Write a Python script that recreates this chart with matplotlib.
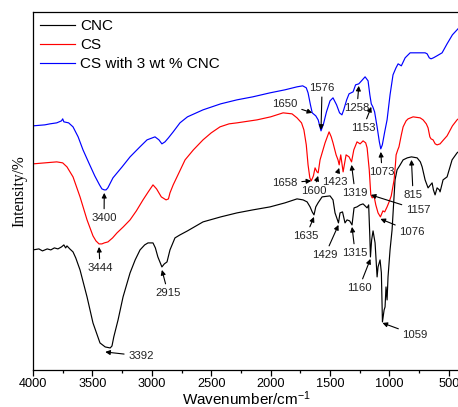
import matplotlib
matplotlib.use("Agg")
import matplotlib.pyplot as plt
import numpy as np

plt.rcParams["font.family"] = ["Liberation Sans", "DejaVu Sans"]
plt.rcParams["mathtext.fontset"] = "custom"
plt.rcParams["mathtext.rm"] = "Liberation Sans"
plt.rcParams["mathtext.it"] = "Liberation Sans"

# FTIR spectra (wavenumber in cm-1, intensity in arbitrary offset units)
cnc_wn = [4000, 3950, 3920, 3880, 3850, 3820, 3790, 3760, 3740, 3725, 3714, 3690, 3663, 3640,
          3604, 3545, 3495, 3436, 3392, 3350, 3335, 3320, 3284, 3242, 3183, 3140, 3099, 3060,
          3032, 2990, 2970, 2949, 2915, 2895, 2872, 2847, 2805, 2763, 2700, 2569, 2420, 2283,
          2150, 2005, 1880, 1778, 1727, 1693, 1668, 1650, 1635, 1620, 1601, 1567, 1500, 1475,
          1458, 1429, 1416, 1395, 1374, 1357, 1335, 1315, 1298, 1273, 1247, 1222, 1205, 1188,
          1175, 1165, 1160, 1150, 1138, 1121, 1104, 1096, 1079, 1068, 1059, 1045, 1037, 1029,
          1020, 1012, 995, 978, 953, 936, 910, 885, 850, 815, 767, 740, 725, 700, 675, 655, 641,
          630, 616, 599, 580, 574, 555, 549, 515, 473, 431, 400]
cnc_val = [120, 121, 119, 121, 120, 122, 121, 123, 125, 122, 124, 121, 118, 112,
           100, 73, 47, 27, 23, 22, 24, 33, 50, 73, 97, 110, 120, 125,
           127, 127, 122, 113, 103, 106, 108, 120, 132, 135, 139, 148, 153, 157,
           160, 163, 167, 171, 170, 168, 163, 158, 155, 163, 167, 173, 174, 170,
           157, 147, 157, 158, 147, 150, 149, 145, 162, 163, 165, 166, 164, 162,
           165, 133, 113, 130, 139, 127, 93, 103, 110, 97, 48, 60, 63, 83,
           70, 93, 120, 140, 190, 200, 205, 210, 212, 213, 212, 208, 203, 190, 182, 185, 187,
           180, 175, 182, 180, 178, 187, 190, 193, 210, 217, 220]

cs_wn = [4000, 3900, 3800, 3750, 3714, 3663, 3604, 3545, 3495, 3470, 3444, 3420, 3400, 3369,
         3330, 3293, 3240, 3183, 3130, 3074, 3030, 2990, 2960, 2920, 2880, 2860, 2847, 2820,
         2788, 2720, 2650, 2569, 2500, 2426, 2350, 2283, 2114, 2000, 1895, 1820, 1778, 1740,
         1720, 1700, 1685, 1670, 1658, 1640, 1626, 1610, 1600, 1584, 1542, 1508, 1490, 1475,
         1449, 1433, 1423, 1410, 1390, 1365, 1340, 1319, 1300, 1273, 1247, 1222, 1200, 1188,
         1170, 1157, 1145, 1130, 1115, 1096, 1076, 1055, 1040, 1020, 1003, 985, 961, 950, 944,
         930, 920, 900, 885, 860, 843, 801, 742, 717, 690, 675, 660, 650, 633, 615, 599, 574,
         545, 515, 470, 431, 400]
cs_val = [206, 207, 208, 207, 203, 193, 173, 150, 134, 129, 126, 126, 127, 128,
          132, 137, 143, 150, 159, 170, 178, 185, 181, 173, 170, 171, 177, 185,
          193, 210, 220, 230, 237, 243, 246, 247, 250, 253, 257, 256, 252, 247,
          240, 225, 205, 192, 189, 194, 202, 198, 197, 210, 227, 238, 233, 227,
          215, 210, 205, 215, 198, 215, 213, 208, 220, 228, 226, 229, 227, 222,
          200, 175, 172, 174, 165, 157, 153, 159, 158, 163, 168, 174, 190, 205, 215,
          220, 223, 235, 243, 249, 251, 253, 252, 250, 246, 242, 233, 231, 230, 226, 225, 226,
          230, 234, 244, 250, 253]

mix_wn = [4000, 3900, 3857, 3800, 3760, 3750, 3740, 3700, 3663, 3620, 3579, 3530, 3480, 3440,
          3420, 3400, 3385, 3370, 3327, 3250, 3183, 3100, 3040, 2973, 2940, 2915, 2889, 2860,
          2820, 2763, 2700, 2569, 2420, 2283, 2150, 2005, 1880, 1778, 1730, 1700, 1685, 1665,
          1650, 1620, 1600, 1576, 1555, 1530, 1500, 1475, 1445, 1420, 1400, 1385, 1360, 1340,
          1306, 1285, 1258, 1235, 1205, 1180, 1165, 1153, 1140, 1125, 1104, 1085, 1073, 1060,
          1040, 1020, 995, 970, 945, 927, 900, 868, 826, 760, 700, 683, 665, 650, 630, 600,
          557, 515, 470, 431, 400]
mix_val = [244, 245, 246, 247, 249, 251, 248, 247, 243, 233, 220, 207, 194, 185,
           181, 180, 180, 182, 192, 203, 213, 223, 230, 233, 230, 226, 228, 232,
           238, 247, 253, 260, 266, 270, 273, 277, 280, 283, 284, 282, 277, 265,
           257, 254, 250, 239, 246, 258, 269, 272, 265, 257, 255, 260, 270, 276,
           278, 285, 286, 289, 293, 289, 275, 266, 263, 258, 243, 228, 221, 225,
           238, 250, 275, 295, 302, 306, 304, 312, 317, 317, 317, 316, 312, 311, 312, 314,
           317, 326, 335, 340, 344]

# peak labels: (text, series, arrow gap, text wavenumber, text height)
peak_labels = [
    ("3400", "mix", -3, 3402, 152),
    ("3444", "cs", -3, 3436, 102),
    ("3392", "cnc", -5, 3091, 14),
    ("2915", "cnc", -3, 2864, 77),
    ("1650", "mix", 0, 1879, 266),
    ("1576", "mix", 1, 1567, 282),
    ("1258", "mix", -2, 1273, 262),
    ("1153", "mix", -3, 1222, 242),
    ("1073", "mix", -3, 1062, 198),
    ("1658", "cs", 0, 1879, 187),
    ("1600", "cs", -3, 1640, 179),
    ("1423", "cs", -3, 1462, 188),
    ("1319", "cs", -3, 1289, 177),
    ("1157", "cs", 0, 759, 160),
    ("1076", "cs", -2, 810, 138),
    ("815", "cnc", -3, 801, 175),
    ("1635", "cnc", -2, 1702, 134),
    ("1429", "cnc", -2, 1542, 115),
    ("1315", "cnc", -2, 1289, 117),
    ("1160", "cnc", -2, 1256, 82),
    ("1059", "cnc", -1, 784, 35),
]

series = {
    "cnc": (cnc_wn, cnc_val, "black", "CNC"),
    "cs": (cs_wn, cs_val, "#ff0000", "CS"),
    "mix": (mix_wn, mix_val, "#0000ff", "CS with 3 wt % CNC"),
}

fig = plt.figure(figsize=(4.58, 4.07), dpi=100)
ax = fig.add_axes([0.072, 0.091, 0.934, 0.88])

for key in ["cnc", "cs", "mix"]:
    wn, val, color, label = series[key]
    ax.plot(wn, val, color=color, lw=0.85, label=label)

for text, key, gap, tx, ty in peak_labels:
    wn, val = series[key][0], series[key][1]
    x0 = float(text)
    y0 = np.interp(x0, wn[::-1], val[::-1]) + gap
    ax.annotate(text, xy=(x0, y0), xytext=(tx, ty), ha="center", va="center",
                fontsize=8.2, color="#222222",
                arrowprops=dict(arrowstyle="-|>", color="black", lw=0.8,
                                mutation_scale=7, shrinkA=1, shrinkB=0))

ax.set_xlim(4000, 400)
ax.set_ylim(0, 358)
ax.set_xticks([4000, 3500, 3000, 2500, 2000, 1500, 1000, 500])
ax.set_xticks(np.arange(3750, 400, -500), minor=True)
ax.set_yticks([])
ax.tick_params(axis="x", which="major", direction="out", length=4, width=0.9,
               labelsize=9.2, pad=1.5)
ax.tick_params(axis="x", which="minor", direction="out", length=2.5, width=0.9)
for sp in ax.spines.values():
    sp.set_linewidth(0.9)

ax.set_xlabel("Wavenumber/cm$^{-1}$", fontsize=11, labelpad=0)
ax.set_ylabel("Intensity/%", fontsize=11.2, family=["Liberation Serif"], labelpad=4)

ax.legend(loc="upper left", frameon=False, fontsize=11, handlelength=2.3,
          handletextpad=0.3, labelspacing=0.33, borderaxespad=0.28, borderpad=0.2)

fig.savefig("out.png", dpi=100)
